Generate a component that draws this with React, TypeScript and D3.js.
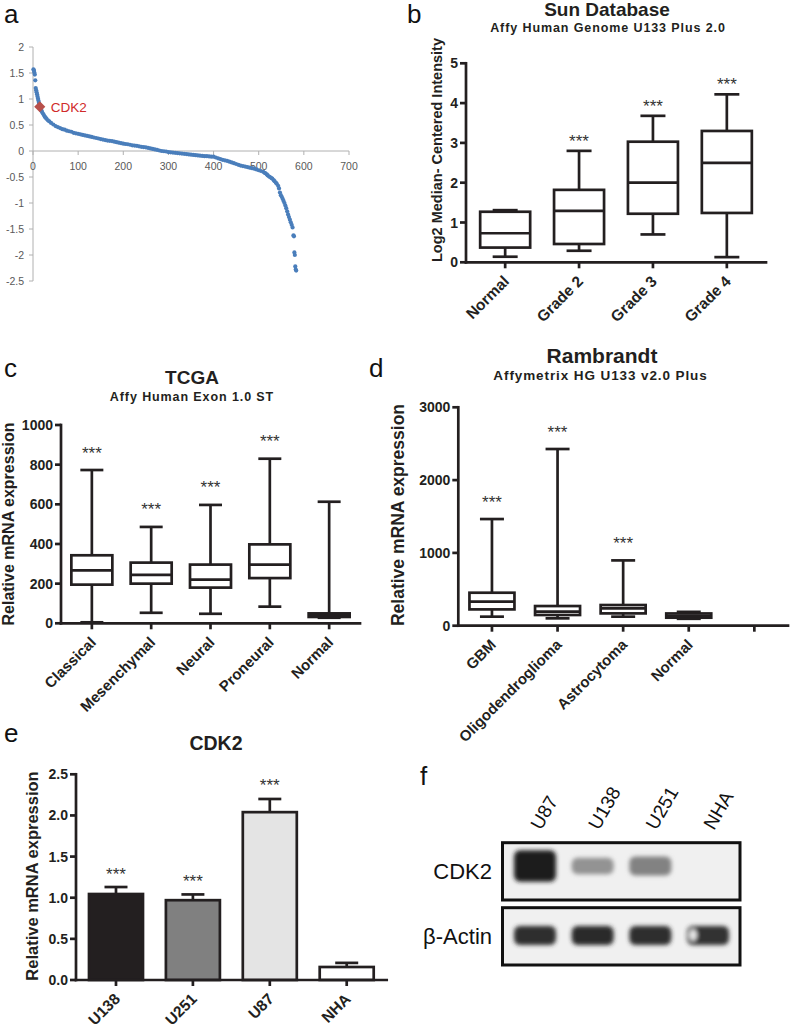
import React from 'react';
import * as d3 from 'd3';

const FONT = '"Liberation Sans", Arial, Helvetica, sans-serif';
const INK = '#231f20';
const W = 790;
const H = 1027;

// ---------- Panel a: ranked values ----------
const aPoints: [number, number][] = [
  [1, 1.57], [2, 1.55], [3, 1.51], [4, 1.47], [5, 1.36], [6, 1.21], [7, 1.17], [8, 1.13], [9, 1.09], [10, 1.05],
  [11, 1.01], [12, 0.97], [13, 0.93], [14, 0.9], [16, 0.84], [17, 0.81], [18, 0.79], [19, 0.77], [20, 0.75],
  [22, 0.72], [24, 0.69], [26, 0.66], [28, 0.64], [30, 0.62], [33, 0.59], [36, 0.57], [40, 0.54], [45, 0.51],
  [50, 0.48], [55, 0.46], [60, 0.44], [65, 0.42], [70, 0.41], [75, 0.39], [80, 0.38], [85, 0.37], [90, 0.35],
  [95, 0.34], [100, 0.33], [105, 0.32], [110, 0.31], [115, 0.3], [120, 0.29], [125, 0.28], [130, 0.27],
  [135, 0.26], [140, 0.25], [145, 0.24], [150, 0.23], [155, 0.22], [160, 0.21], [165, 0.2], [170, 0.195],
  [175, 0.19], [180, 0.18], [185, 0.17], [190, 0.16], [195, 0.15], [200, 0.14], [205, 0.135], [210, 0.13],
  [215, 0.12], [220, 0.11], [225, 0.105], [230, 0.1], [235, 0.09], [240, 0.08], [245, 0.075], [250, 0.07],
  [255, 0.06], [260, 0.05], [265, 0.04], [270, 0.03], [275, 0.02], [280, 0.01], [285, 0], [290, -0.005],
  [295, -0.01], [300, -0.02], [305, -0.025], [310, -0.03], [315, -0.035], [320, -0.04], [325, -0.045],
  [330, -0.05], [335, -0.055], [340, -0.06], [345, -0.065], [350, -0.07], [355, -0.075], [360, -0.08],
  [365, -0.085], [370, -0.09], [375, -0.095], [380, -0.1], [385, -0.1], [390, -0.105], [395, -0.11],
  [400, -0.11], [405, -0.125], [410, -0.14], [415, -0.155], [420, -0.17], [425, -0.18], [430, -0.19],
  [435, -0.205], [440, -0.22], [445, -0.235], [450, -0.25], [455, -0.265], [460, -0.28], [465, -0.29],
  [470, -0.3], [475, -0.31], [480, -0.32], [485, -0.33], [490, -0.34], [495, -0.355], [500, -0.37],
  [505, -0.385], [510, -0.4], [513, -0.42], [515, -0.43], [518, -0.45], [520, -0.47], [523, -0.49],
  [525, -0.5], [528, -0.52], [530, -0.53], [533, -0.56], [535, -0.58], [538, -0.61], [540, -0.63],
  [543, -0.67], [545, -0.72], [547, -0.8], [549, -0.85], [551, -0.88], [553, -0.92], [555, -0.96],
  [557, -1.0], [559, -1.05], [561, -1.1], [563, -1.16], [565, -1.22], [567, -1.27], [569, -1.32],
  [571, -1.37], [573, -1.42], [575, -1.47], [577, -1.62], [578, -1.64], [579, -1.95], [580, -2.0],
  [581, -2.22], [582, -2.28], [583, -2.3],
];
const aHighlight = { label: 'CDK2', rank: 15, value: 0.85 };
const aXTicks = [0, 100, 200, 300, 400, 500, 600, 700];
const aYTicks = [2, 1.5, 1, 0.5, 0, -0.5, -1, -1.5, -2, -2.5];

// ---------- Panel b: Sun database ----------
const sunCategories = ['Normal', 'Grade 2', 'Grade 3', 'Grade 4'];
const sunMin = [0.14, 0.29, 0.7, 0.13];
const sunQ1 = [0.37, 0.46, 1.22, 1.24];
const sunMedian = [0.73, 1.29, 2.0, 2.5];
const sunQ3 = [1.27, 1.82, 3.03, 3.3];
const sunMax = [1.31, 2.8, 3.68, 4.22];
const sunStars = ['', '***', '***', '***'];
const sunTicks = [0, 1, 2, 3, 4, 5];

// ---------- Panel c: TCGA ----------
const tcgaCategories = ['Classical', 'Mesenchymal', 'Neural', 'Proneural', 'Normal'];
const tcgaMin = [5, 53, 48, 84, 28];
const tcgaQ1 = [195, 200, 180, 228, 32];
const tcgaMedian = [267, 244, 220, 296, 40];
const tcgaQ3 = [343, 306, 296, 398, 50];
const tcgaMax = [773, 486, 597, 830, 613];
const tcgaStars = ['***', '***', '***', '***', ''];
const tcgaTicks = [0, 200, 400, 600, 800, 1000];

// ---------- Panel d: Rembrandt ----------
const remCategories = ['GBM', 'Oligodendroglioma', 'Astrocytoma', 'Normal', ''];
const remMin = [124, 101, 124, 95, null];
const remQ1 = [224, 147, 169, 110, null];
const remMedian = [330, 192, 238, 135, null];
const remQ3 = [453, 270, 284, 168, null];
const remMax = [1465, 2427, 897, 190, null];
const remStars = ['***', '***', '***', '', ''];
const remTicks = [0, 1000, 2000, 3000];

// ---------- Panel e: qPCR ----------
const cellLines = ['U138', 'U251', 'U87', 'NHA'];
const cellExpr = [1.045, 0.97, 2.04, 0.158];
const cellErr = [0.085, 0.07, 0.16, 0.05];
const cellFill = ['#231f20', '#808080', '#e4e4e4', '#ffffff'];
const cellStars = ['***', '***', '***', ''];
const cellTicks = [0, 0.5, 1.0, 1.5, 2.0, 2.5];

// ---------- Panel f: western blot ----------
const blotLanes = ['U87', 'U138', 'U251', 'NHA'];
const blotRows = ['CDK2', 'β-Actin'];
const cdk2Signal = [0.95, 0.42, 0.5, 0];
const actinSignal = [0.88, 0.9, 0.88, 0.86];

type BoxProps = {
  letter: string; letterX: number; letterY: number;
  title: string; titleX: number; titleY: number; titleSize: number;
  subtitle: string; subX: number; subY: number; subSize: number;
  yTitle: string; yTitleX: number; yTitleY: number; yTitleSize: number;
  categories: string[]; mins: (number | null)[]; q1: (number | null)[]; med: (number | null)[];
  q3: (number | null)[]; maxs: (number | null)[]; stars: string[]; ticks: number[];
  axisX: number; axisEnd: number; y0: number; yTopPx: number; yMax: number; pad: number;
  boxW: number; capW: number; starOff: number; catSize: number;
};

function BoxPanel(p: BoxProps) {
  const x = d3.scalePoint<string>().domain(p.categories.map((c, i) => c + '#' + i)).range([p.axisX, p.axisEnd]).padding(p.pad);
  const y = d3.scaleLinear().domain([0, p.yMax]).range([p.y0, p.yTopPx]);
  const sw = 2.7;
  return (
    <g>
      <text x={p.letterX} y={p.letterY} fontSize={26} fill="#111">{p.letter}</text>
      <text x={p.titleX} y={p.titleY} fontSize={p.titleSize} fontWeight="bold" textAnchor="middle" fill={INK}>{p.title}</text>
      <text x={p.subX} y={p.subY} fontSize={p.subSize} fontWeight="bold" textAnchor="middle" letterSpacing={0.9} fill={INK}>{p.subtitle}</text>
      <text transform={`translate(${p.yTitleX},${p.yTitleY}) rotate(-90)`} fontSize={p.yTitleSize} fontWeight="bold" textAnchor="middle" fill={INK}>{p.yTitle}</text>
      {p.categories.map((c, i) => {
        const cx = x(c + '#' + i)!;
        const mn = p.mins[i], a = p.q1[i], m = p.med[i], b = p.q3[i], mx = p.maxs[i];
        return (
          <g key={i}>
            {mn !== null && mx !== null && a !== null && b !== null && m !== null && (
              <g stroke={INK} strokeWidth={sw} fill="none">
                <line x1={cx} x2={cx} y1={y(mx)} y2={y(mn)} />
                <line x1={cx - p.capW / 2} x2={cx + p.capW / 2} y1={y(mx)} y2={y(mx)} />
                <line x1={cx - p.capW / 2} x2={cx + p.capW / 2} y1={y(mn)} y2={y(mn)} />
                <rect x={cx - p.boxW / 2} y={y(b)} width={p.boxW} height={y(a) - y(b)} fill="#fff" />
                <line x1={cx - p.boxW / 2} x2={cx + p.boxW / 2} y1={y(m)} y2={y(m)} />
              </g>
            )}
            {p.stars[i] && mx !== null && (
              <text x={cx} y={y(mx) - p.starOff + 9.5} fontSize={17} textAnchor="middle" fill="#333">{p.stars[i]}</text>
            )}
            <line x1={cx} x2={cx} y1={p.y0} y2={p.y0 + 6} stroke={INK} strokeWidth={sw} />
            <text transform={`translate(${cx + 5},${p.y0 + 20}) rotate(-45)`} fontSize={p.catSize} fontWeight="bold" textAnchor="end" fill={INK}>{c}</text>
          </g>
        );
      })}
      <line x1={p.axisX} x2={p.axisX} y1={p.y0} y2={p.yTopPx} stroke={INK} strokeWidth={sw} strokeLinecap="square" />
      <line x1={p.axisX} x2={p.axisEnd} y1={p.y0} y2={p.y0} stroke={INK} strokeWidth={sw} strokeLinecap="square" />
      {p.ticks.map(t => (
        <g key={t}>
          <line x1={p.axisX - 6} x2={p.axisX} y1={y(t)} y2={y(t)} stroke={INK} strokeWidth={sw} />
          <text x={p.axisX - 8} y={y(t)} dy="0.36em" fontSize={14} fontWeight="bold" textAnchor="end" fill={INK}>{t}</text>
        </g>
      ))}
    </g>
  );
}

function PanelA() {
  const x = d3.scaleLinear().domain([0, 700]).range([33, 349]);
  const y = d3.scaleLinear().domain([-2.5, 2]).range([281, 47]);
  const AX = '#b0b0b0';
  const square = d3.symbol().type(d3.symbolSquare).size(62)()!;
  return (
    <g>
      <text x={4} y={22.5} fontSize={26} fill="#111">a</text>
      <line x1={x(0)} x2={x(0)} y1={y(2)} y2={y(-2.5)} stroke={AX} />
      <line x1={x(0)} x2={x(700)} y1={y(0)} y2={y(0)} stroke={AX} />
      {aYTicks.map(t => (
        <g key={t}>
          <line x1={x(0) - 4} x2={x(0)} y1={y(t)} y2={y(t)} stroke={AX} />
          <text x={x(0) - 9} y={y(t)} dy="0.35em" fontSize={10.5} textAnchor="end" fill="#595959">{t}</text>
        </g>
      ))}
      {aXTicks.map(t => (
        <g key={t}>
          <line x1={x(t)} x2={x(t)} y1={y(0)} y2={y(0) + 4} stroke={AX} />
          <text x={x(t)} y={y(0) + 19} fontSize={10.5} textAnchor="middle" fill="#595959">{t}</text>
        </g>
      ))}
      {aPoints.map(([r, v], i) => (
        <circle key={i} cx={x(r)} cy={y(v)} r={2.1} fill="#4a7ebb" />
      ))}
      <path d={square} transform={`translate(${x(aHighlight.rank)},${y(aHighlight.value)}) rotate(45)`} fill="#b8504b" />
      <text x={x(aHighlight.rank) + 11} y={y(aHighlight.value) + 5} fontSize={13.5} fill="#d02a2a">{aHighlight.label}</text>
    </g>
  );
}

function PanelE() {
  const axisX = 76, axisEnd = 386.7, y0 = 980, yTop = 774.3;
  const x = d3.scalePoint<string>().domain(cellLines).range([axisX, axisEnd]).padding(0.52);
  const y = d3.scaleLinear().domain([0, 2.5]).range([y0, yTop]);
  const sw = 2.7, barW = 54, capW = 23;
  const fmt = d3.format('.1f');
  return (
    <g>
      <text x={4} y={742} fontSize={26} fill="#111">e</text>
      <text x={216} y={750} fontSize={19.5} fontWeight="bold" textAnchor="middle" fill={INK}>CDK2</text>
      <text transform={`translate(38,876) rotate(-90)`} fontSize={16.5} fontWeight="bold" textAnchor="middle" fill={INK}>Relative mRNA expression</text>
      {cellLines.map((c, i) => {
        const cx = x(c)!;
        const top = cellExpr[i] + cellErr[i];
        return (
          <g key={c}>
            <g stroke={INK} strokeWidth={sw}>
              <line x1={cx} x2={cx} y1={y(cellExpr[i])} y2={y(top)} />
              <line x1={cx - capW / 2} x2={cx + capW / 2} y1={y(top)} y2={y(top)} />
              <rect x={cx - barW / 2} y={y(cellExpr[i])} width={barW} height={y0 - y(cellExpr[i])} fill={cellFill[i]} />
            </g>
            {cellStars[i] && (
              <text x={cx} y={y(top) - 17 + 9.5} fontSize={17} textAnchor="middle" fill="#333">{cellStars[i]}</text>
            )}
            <line x1={cx} x2={cx} y1={y0} y2={y0 + 6} stroke={INK} strokeWidth={sw} />
            <text transform={`translate(${cx + 5},${y0 + 20}) rotate(-45)`} fontSize={15.5} fontWeight="bold" textAnchor="end" fill={INK}>{c}</text>
          </g>
        );
      })}
      <line x1={axisX} x2={axisX} y1={y0} y2={yTop} stroke={INK} strokeWidth={sw} strokeLinecap="square" />
      <line x1={axisX} x2={axisEnd} y1={y0} y2={y0} stroke={INK} strokeWidth={sw} strokeLinecap="square" />
      {cellTicks.map(t => (
        <g key={t}>
          <line x1={axisX - 6} x2={axisX} y1={y(t)} y2={y(t)} stroke={INK} strokeWidth={sw} />
          <text x={axisX - 8} y={y(t)} dy="0.36em" fontSize={14} fontWeight="bold" textAnchor="end" fill={INK}>{fmt(t)}</text>
        </g>
      ))}
    </g>
  );
}

function PanelF() {
  const x = d3.scalePoint<string>().domain(blotLanes).range([535, 708]);
  const boxX = 502.5, boxW = 237.5;
  const rowsY = [842.7, 907.7];
  const rowH = 57.3;
  const shade = d3.interpolateRgb('#efefef', '#141414');
  return (
    <g>
      <defs>
        <filter id="blotblur" x="-30%" y="-60%" width="160%" height="220%">
          <feGaussianBlur stdDeviation="2.2" />
        </filter>
      </defs>
      <text x={420} y={785} fontSize={26} fill="#111">f</text>
      {blotLanes.map(l => (
        <text key={l} transform={`translate(${x(l)! + 6},831) rotate(-60)`} fontSize={19} fill="#111">{l}</text>
      ))}
      {blotRows.map((r, ri) => (
        <g key={r}>
          <rect x={boxX} y={rowsY[ri]} width={boxW} height={rowH} fill="#f0f0f0" stroke="#111" strokeWidth={3} />
          <text x={492} y={rowsY[ri] + rowH / 2 + 8} fontSize={22} textAnchor="end" fill="#111">{r}</text>
        </g>
      ))}
      <g filter="url(#blotblur)">
        {blotLanes.map((l, i) => cdk2Signal[i] > 0 && (
          <rect key={'c' + l} x={x(l)! - 21} y={866 - (8 + 14 * (cdk2Signal[i] - 0.4))} width={42}
            height={2 * (8 + 14 * (cdk2Signal[i] - 0.4))} rx={6} fill={shade(cdk2Signal[i])} />
        ))}
        {blotLanes.map((l, i) => (
          <rect key={'a' + l} x={x(l)! - 21} y={926} width={42} height={19} rx={6} fill={shade(actinSignal[i])} />
        ))}
        <ellipse cx={x('NHA')! - 15} cy={935} rx={4} ry={6} fill="#e8e8e8" />
      </g>
    </g>
  );
}

export default function App() {
  return (
    <svg width={W} height={H} style={{ position: 'absolute', left: 0, top: 0 }} fontFamily={FONT}>
      <rect width={W} height={H} fill="#fff" />
      <PanelA />
      <BoxPanel
        letter="b" letterX={407} letterY={22.5}
        title="Sun Database" titleX={607} titleY={16} titleSize={19}
        subtitle="Affy Human Genome U133 Plus 2.0" subX={608} subY={31.5} subSize={12.5}
        yTitle="Log2 Median- Centered Intensity" yTitleX={442} yTitleY={150} yTitleSize={14.5}
        categories={sunCategories} mins={sunMin} q1={sunQ1} med={sunMedian} q3={sunQ3} maxs={sunMax}
        stars={sunStars} ticks={sunTicks}
        axisX={466} axisEnd={766} y0={262.3} yTopPx={63.3} yMax={5} pad={0.53}
        boxW={50} capW={25} starOff={13.5} catSize={15.5}
      />
      <BoxPanel
        letter="c" letterX={4} letterY={377}
        title="TCGA" titleX={192} titleY={384} titleSize={19}
        subtitle="Affy Human Exon 1.0 ST" subX={192} subY={401} subSize={12.5}
        yTitle="Relative mRNA expression" yTitleX={14} yTitleY={524} yTitleSize={16}
        categories={tcgaCategories} mins={tcgaMin} q1={tcgaQ1} med={tcgaMedian} q3={tcgaQ3} maxs={tcgaMax}
        stars={tcgaStars} ticks={tcgaTicks}
        axisX={61} axisEnd={360} y0={623.3} yTopPx={425} yMax={1000} pad={0.52}
        boxW={41} capW={23} starOff={21} catSize={15}
      />
      <BoxPanel
        letter="d" letterX={369} letterY={377}
        title="Rambrandt" titleX={602} titleY={363} titleSize={21}
        subtitle="Affymetrix HG U133 v2.0 Plus" subX={600.5} subY={380} subSize={13.5}
        yTitle="Relative mRNA expression" yTitleX={404} yTitleY={515} yTitleSize={17.5}
        categories={remCategories} mins={remMin} q1={remQ1} med={remMedian} q3={remQ3} maxs={remMax}
        stars={remStars} ticks={remTicks}
        axisX={458.3} axisEnd={788} y0={625.7} yTopPx={407.3} yMax={3000} pad={0.513}
        boxW={45} capW={24} starOff={21} catSize={15}
      />
      <PanelE />
      <PanelF />
    </svg>
  );
}
